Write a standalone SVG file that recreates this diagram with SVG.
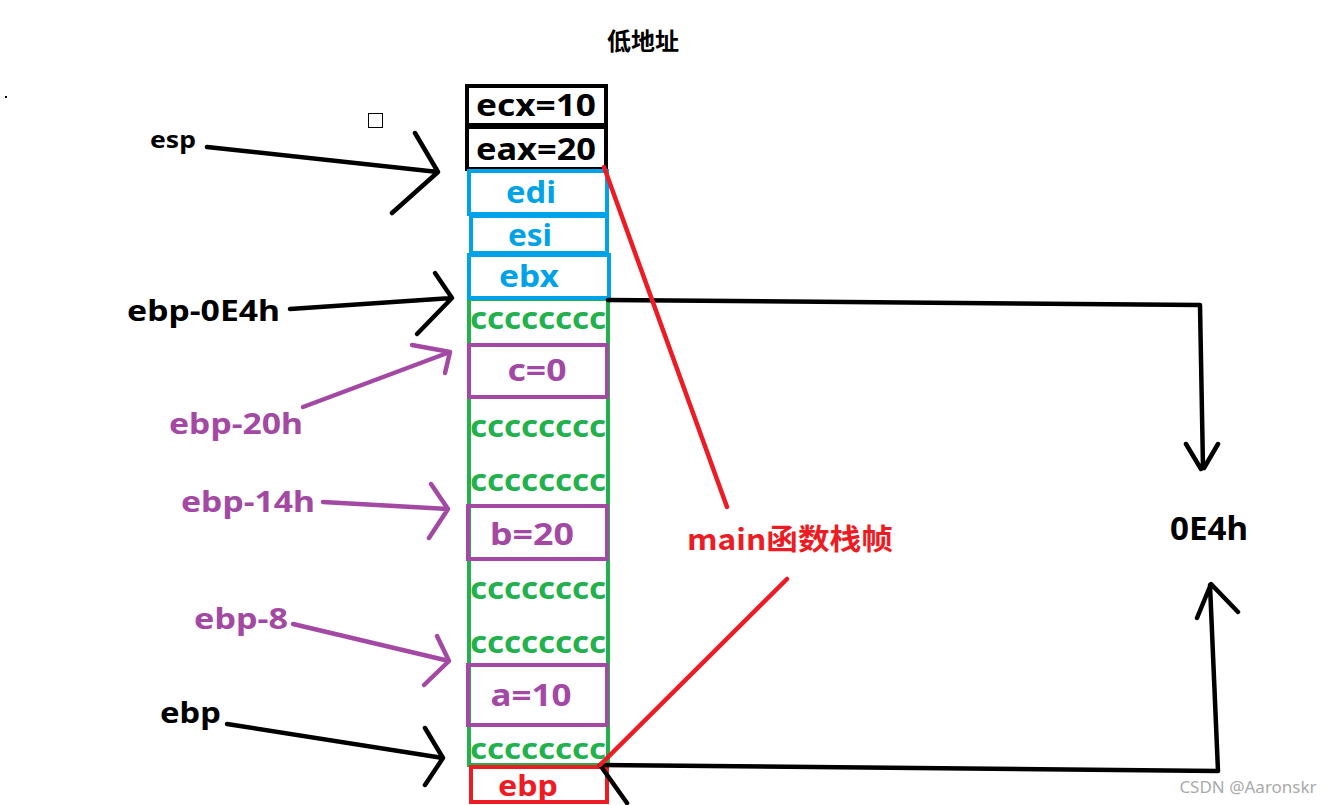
<svg xmlns="http://www.w3.org/2000/svg" width="1341" height="805" viewBox="0 0 1341 805">
<style>
text{font-family:"Noto Sans","Open Sans","Liberation Sans","Noto Sans CJK SC",sans-serif;font-weight:bold;}
.cjk{font-family:"Noto Sans CJK SC","Noto Sans",sans-serif;font-weight:bold;}
.box{fill:none;stroke-width:4;}
.k{stroke:#000;}
.b{stroke:#00a2e8;}
.g{stroke:#22b14c;}
.p{stroke:#a349a4;}
.r{stroke:#ed1c24;}
.ln{fill:none;stroke-width:4.5;stroke-linecap:round;stroke-linejoin:round;}
.tk{fill:#000;}
.tb{fill:#00a2e8;}
.tg{fill:#22b14c;}
.tp{fill:#a349a4;}
.tr{fill:#ed1c24;}
</style>
<rect width="1341" height="805" fill="#fff"/>
<text class="cjk tk" x="643" y="50" font-size="24" text-anchor="middle">低地址</text>
<rect x="368.5" y="113.5" width="14" height="14" fill="none" stroke="#000" stroke-width="1"/>
<rect x="5" y="96" width="2" height="2" fill="#000"/>

<g id="green-col"><rect class="box g" x="469" y="299" width="139" height="466"/>
<text class="tg" x="538" y="329" font-size="30" text-anchor="middle" textLength="136" lengthAdjust="spacingAndGlyphs">cccccccc</text>
<text class="tg" x="538" y="437" font-size="30" text-anchor="middle" textLength="136" lengthAdjust="spacingAndGlyphs">cccccccc</text>
<text class="tg" x="538" y="491" font-size="30" text-anchor="middle" textLength="136" lengthAdjust="spacingAndGlyphs">cccccccc</text>
<text class="tg" x="538" y="599" font-size="30" text-anchor="middle" textLength="136" lengthAdjust="spacingAndGlyphs">cccccccc</text>
<text class="tg" x="538" y="653" font-size="30" text-anchor="middle" textLength="136" lengthAdjust="spacingAndGlyphs">cccccccc</text>
<text class="tg" x="538" y="759" font-size="29" text-anchor="middle" textLength="136" lengthAdjust="spacingAndGlyphs">cccccccc</text>
</g>
<g id="ecx"><rect class="box k" x="467" y="86" width="139" height="39"/><text class="tk" x="536" y="116" font-size="30" text-anchor="middle" textLength="120" lengthAdjust="spacingAndGlyphs">ecx=10</text></g>
<g id="eax"><rect class="box k" x="467" y="127" width="139" height="42"/><text class="tk" x="536" y="160" font-size="30" text-anchor="middle" textLength="120" lengthAdjust="spacingAndGlyphs">eax=20</text></g>
<g id="edi"><rect class="box b" x="469" y="171" width="138" height="43"/><text class="tb" x="531" y="203" font-size="30" text-anchor="middle" textLength="50" lengthAdjust="spacingAndGlyphs">edi</text></g>
<g id="esi"><rect class="box b" x="471" y="216" width="136" height="37"/><text class="tb" x="530" y="246" font-size="30" text-anchor="middle" textLength="44" lengthAdjust="spacingAndGlyphs">esi</text></g>
<g id="ebx"><rect class="box b" x="469" y="255" width="140" height="43"/><text class="tb" x="529" y="287" font-size="30" text-anchor="middle" textLength="60" lengthAdjust="spacingAndGlyphs">ebx</text></g>
<g id="c0"><rect class="box p" x="469" y="345" width="138" height="52" fill="#fff"/><text class="tp" x="537" y="381" font-size="30" text-anchor="middle" textLength="59" lengthAdjust="spacingAndGlyphs">c=0</text></g>
<g id="b20"><rect class="box p" x="468" y="506" width="139" height="53" fill="#fff"/><text class="tp" x="532" y="545" font-size="30" text-anchor="middle" textLength="84" lengthAdjust="spacingAndGlyphs">b=20</text></g>
<g id="a10"><rect class="box p" x="468" y="665" width="139" height="60" fill="#fff"/><text class="tp" x="531" y="706" font-size="30" text-anchor="middle" textLength="81" lengthAdjust="spacingAndGlyphs">a=10</text></g>
<g id="ebp-box"><rect class="box r" x="471" y="767" width="136" height="35"/><text class="tr" x="528" y="796" font-size="28" text-anchor="middle" textLength="60" lengthAdjust="spacingAndGlyphs">ebp</text></g>

<g id="labels">
<text class="tk" x="150" y="148" font-size="24" textLength="46" lengthAdjust="spacingAndGlyphs">esp</text>
<text class="tk" x="127" y="321" font-size="29" textLength="153" lengthAdjust="spacingAndGlyphs">ebp-0E4h</text>
<text class="tp" x="169" y="434" font-size="29" textLength="134" lengthAdjust="spacingAndGlyphs">ebp-20h</text>
<text class="tp" x="181" y="512" font-size="29" textLength="134" lengthAdjust="spacingAndGlyphs">ebp-14h</text>
<text class="tp" x="194" y="629" font-size="29" textLength="94" lengthAdjust="spacingAndGlyphs">ebp-8</text>
<text class="tk" x="160" y="723" font-size="29" textLength="61" lengthAdjust="spacingAndGlyphs">ebp</text>
<text class="tk" x="1170" y="540" font-size="32" textLength="78" lengthAdjust="spacingAndGlyphs">0E4h</text>
<text class="cjk tr" x="687" y="550" font-size="29" textLength="206" lengthAdjust="spacingAndGlyphs">main函数栈帧</text>
<text x="1248" y="793" font-size="17" text-anchor="middle" fill="#aaa" style="font-weight:normal">CSDN @Aaronskr</text>
</g>

<g id="connectors">
<path class="ln k" d="M207,147 L438,172 M415,133 L438,172 L392,213"/>
<path class="ln k" d="M290,309 L452,298 M435,273 L452,298 L417,334"/>
<path class="ln p" d="M303,407 L450,352 M412,345 L450,352 L445,373"/>
<path class="ln p" d="M323,502 L448,509 M431,484 L448,509 L429,538"/>
<path class="ln p" d="M293,624 L449,661 M437,636 L449,661 L424,685"/>
<path class="ln k" d="M227,724 L443,758 M425,728 L443,758 L425,785"/>
<path class="ln k" d="M608,300 L1200,305 L1203,468 M1186,444 L1201,469 M1218,444 L1204,468"/>
<path class="ln k" d="M600,765 L1218,771 L1210,585 M1197,618 L1211,584 L1238,612"/>
<path class="ln k" d="M600,765 L627,803"/>
<path class="ln r" d="M604,167 L727,507"/>
<path class="ln r" d="M787,579 L600,765"/>
</g>
</svg>
